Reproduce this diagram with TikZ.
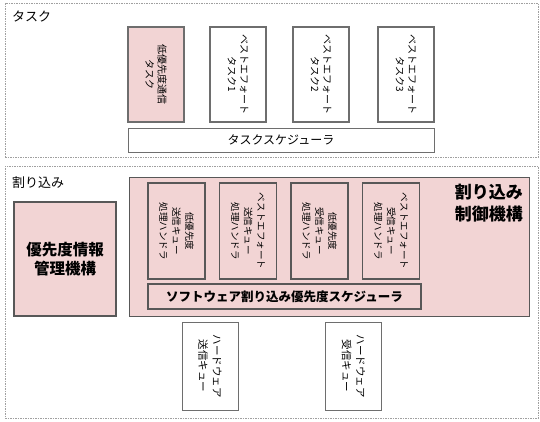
\documentclass[tikz,border=0pt]{standalone}
\usepackage{fontspec}
\setmainfont{Noto Sans CJK JP}
\definecolor{pinkfill}{RGB}{242,212,212}
\definecolor{edge}{RGB}{110,110,110}
\definecolor{areaedge}{RGB}{160,160,160}
\tikzset{
  area/.style={draw=areaedge, dash pattern=on 1.5pt off 1pt, line width=0.8pt},
  taskbox/.style={draw=edge, line width=1.2pt, fill=white, rotate=-90, align=center, inner sep=0pt, font=\fontsize{10}{12.5}\selectfont},
  pinkbox/.style={draw=edge!80!black, line width=1.1pt, fill=pinkfill, inner sep=0pt},
  vhandler/.style={pinkbox, rotate=-90, align=center, font=\fontsize{9.5}{13}\selectfont},
  hwbox/.style={draw=edge, line width=1pt, fill=white, rotate=-90, align=center, inner sep=0pt, font=\fontsize{10.5}{14}\selectfont},
  title/.style={anchor=west, inner sep=0pt, font=\fontsize{13}{15}\selectfont},
}
\begin{document}
\begin{tikzpicture}[x=1pt,y=-1pt]
\useasboundingbox (0,0) rectangle (540,421);
\fill[white] (0,0) rectangle (540,421);
% task area
\node[area, minimum width=533pt, minimum height=154pt, anchor=north west, inner sep=0pt] (taskarea) at (5,3) {};
\node[title] (tasktitle) at (12,16) {タスク};
\node[taskbox, fill=pinkfill, minimum width=95pt, minimum height=56pt] (t0) at (156,74.5) {低優先度通信\\タスク};
\node[taskbox, minimum width=95pt, minimum height=56pt] (t1) at (238,74.5) {ベストエフォート\\タスク1};
\node[taskbox, minimum width=95pt, minimum height=56pt] (t2) at (321,74.5) {ベストエフォート\\タスク2};
\node[taskbox, minimum width=95pt, minimum height=56pt] (t3) at (406,74.5) {ベストエフォート\\タスク3};
\node[draw=edge, line width=1pt, fill=white, minimum width=306pt, minimum height=24pt, inner sep=0pt, font=\fontsize{12}{14}\selectfont] (tsched) at (281,140) {タスクスケジューラ};
% interrupt area
\node[area, minimum width=533pt, minimum height=252pt, anchor=north west, inner sep=0pt] (intarea) at (5,166) {};
\node[title] (inttitle) at (12,183) {割り込み};
\node[pinkbox, minimum width=102pt, minimum height=114pt, align=center, font=\fontsize{15.5}{19}\selectfont\bfseries] (prio) at (65,259) {優先度情報\\管理機構};
\node[pinkbox, minimum width=400pt, minimum height=139pt, anchor=north west] (ctrl) at (129,177) {};
\node[anchor=north east, align=right, inner sep=0pt, font=\fontsize{17}{22}\selectfont\bfseries] (ctrltitle) at (523,184) {割り込み\\制御機構};
\node[vhandler, minimum width=96pt, minimum height=57pt] (h1) at (176.5,231) {低優先度\\送信キュー\\処理ハンドラ};
\node[vhandler, minimum width=96pt, minimum height=57pt] (h2) at (248,231) {ベストエフォート\\送信キュー\\処理ハンドラ};
\node[vhandler, minimum width=96pt, minimum height=57pt] (h3) at (319.5,231) {低優先度\\受信キュー\\処理ハンドラ};
\node[vhandler, minimum width=96pt, minimum height=57pt] (h4) at (391,231) {ベストエフォート\\受信キュー\\処理ハンドラ};
\node[pinkbox, minimum width=273pt, minimum height=25pt, font=\fontsize{12.5}{14}\selectfont\bfseries] (swsched) at (284.5,296.5) {ソフトウェア割り込み優先度スケジューラ};
\node[hwbox, minimum width=88pt, minimum height=56pt] (hw1) at (210,366) {ハードウェア\\送信キュー};
\node[hwbox, minimum width=88pt, minimum height=56pt] (hw2) at (353.5,366) {ハードウェア\\受信キュー};
\end{tikzpicture}
\end{document}
